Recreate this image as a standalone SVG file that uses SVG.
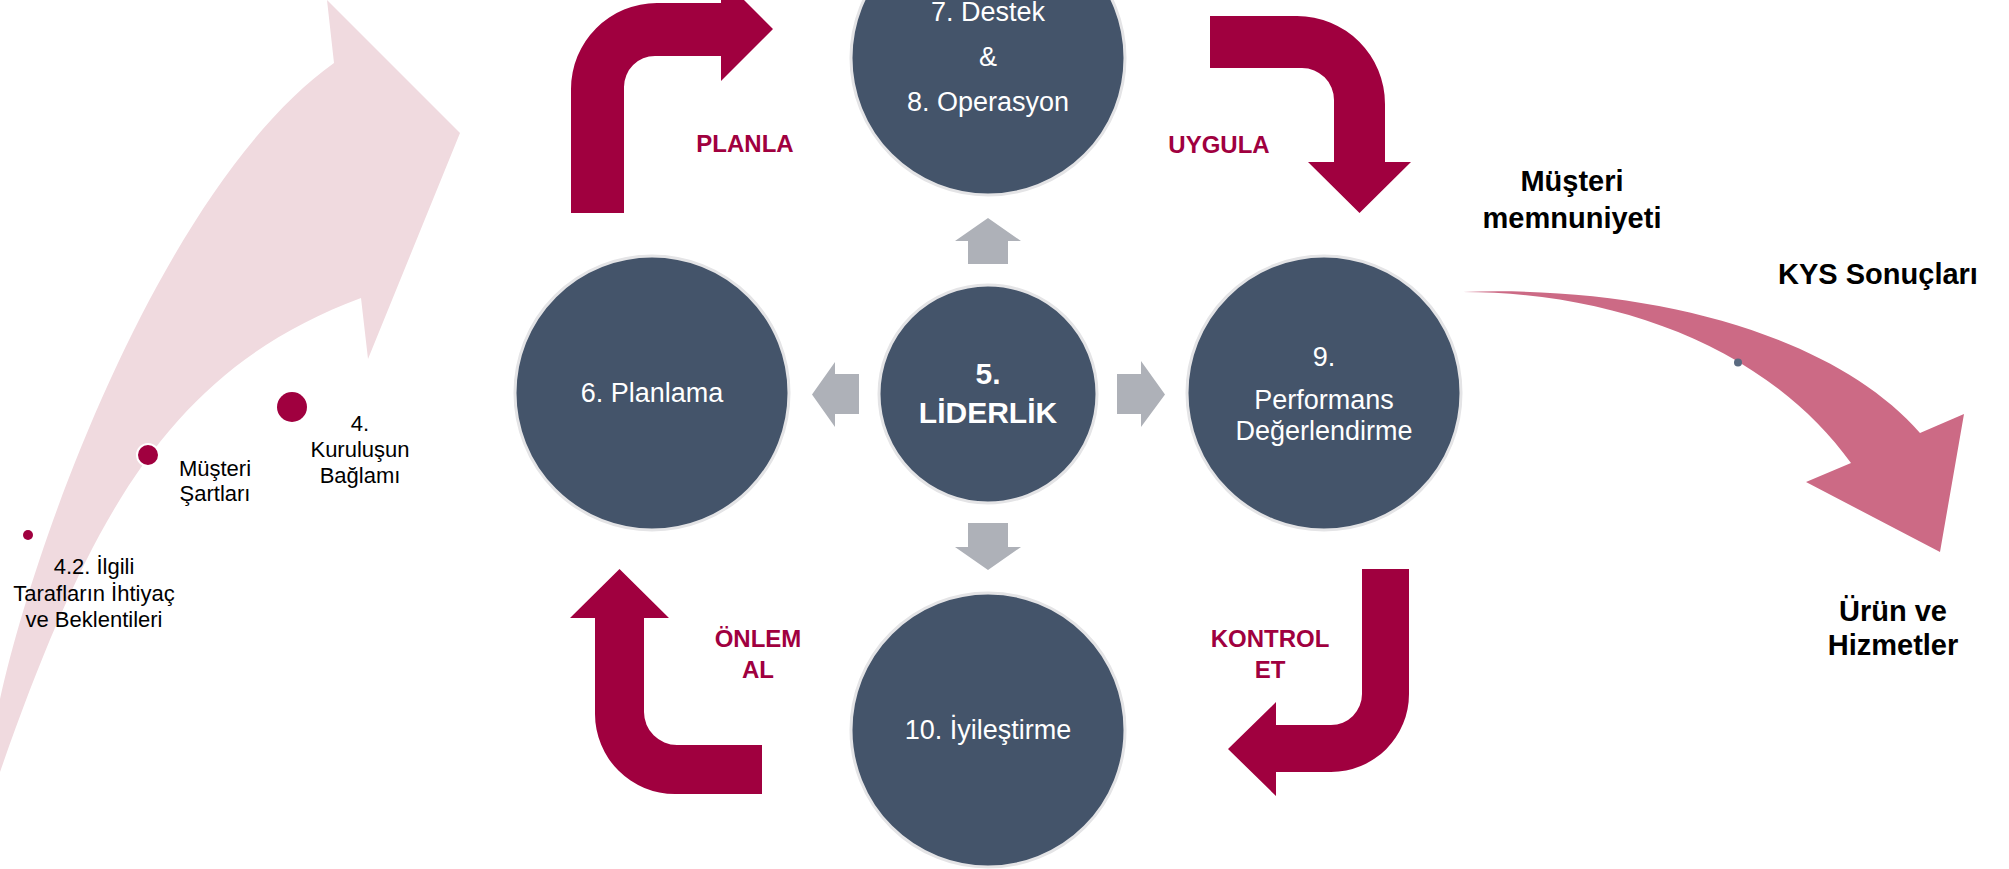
<svg xmlns="http://www.w3.org/2000/svg" width="2009" height="869" viewBox="0 0 2009 869">
  <style>
    .node { fill: #44546A; stroke: #E4E4E6; stroke-width: 3; }
    .ntext { font-family: "Liberation Sans", Arial, sans-serif; font-size: 27px; fill: #FFFFFF; text-anchor: middle; }
    .nbold { font-family: "Liberation Sans", Arial, sans-serif; font-size: 30px; font-weight: bold; fill: #FFFFFF; text-anchor: middle; }
    .cycle { fill: #A0003F; }
    .lead { fill: #AEB1B8; }
    .step { font-family: "Liberation Sans", Arial, sans-serif; font-size: 24px; font-weight: bold; fill: #A0003F; text-anchor: middle; }
    .out { font-family: "Liberation Sans", Arial, sans-serif; font-size: 29px; font-weight: bold; fill: #000000; text-anchor: middle; }
    .ctx { font-family: "Liberation Sans", Arial, sans-serif; font-size: 22px; fill: #000000; text-anchor: middle; }
    .dot { fill: #A0003F; }
  </style>
  <rect width="2009" height="869" fill="#FFFFFF"/>

  <!-- context arrow on the left, rising to the right -->
  <g id="context-arrow">
    <path d="M0,699 C40,520 170,180 334,63 L327,0 L460,133 L368,359 L361,298 C173.6,367.8 92.4,507.7 0,772 Z" fill="#F0DADF"/>
  </g>

  <g id="ctx-kurulus">
    <circle class="dot" cx="292" cy="407" r="15"/>
    <text class="ctx" x="360" y="431">4.</text>
    <text class="ctx" x="360" y="457">Kuruluşun</text>
    <text class="ctx" x="360" y="483">Bağlamı</text>
  </g>
  <g id="ctx-musteri">
    <circle class="dot" cx="148" cy="455" r="11" stroke="#FFFFFF" stroke-width="2"/>
    <text class="ctx" x="215" y="476">Müşteri</text>
    <text class="ctx" x="215" y="501">Şartları</text>
  </g>
  <g id="ctx-taraflar">
    <circle class="dot" cx="28" cy="535" r="5"/>
    <text class="ctx" x="94" y="574">4.2. İlgili</text>
    <text class="ctx" x="94" y="601">Tarafların İhtiyaç</text>
    <text class="ctx" x="94" y="627">ve Beklentileri</text>
  </g>

  <!-- connectors: PUKÖ cycle arrows, leadership arrows, result arrow -->
  <g id="connectors">
    <path id="arrow-planla" class="cycle" d="M571,213 L571,89 A86,86 0 0 1 657,3 L721,3 L721,-23 L773,29 L721,81 L721,56 L655,56 A31,31 0 0 0 624,87 L624,213 Z"/>
    <path id="arrow-uygula" class="cycle" d="M1210,16 L1297,16 A88,88 0 0 1 1385,104 L1385,162 L1411,162 L1359.5,213 L1308,162 L1334,162 L1334,100 A32,32 0 0 0 1302,68 L1210,68 Z"/>
    <path id="arrow-kontrol" class="cycle" d="M1362,569 L1409,569 L1409,694 A78,78 0 0 1 1331,772 L1276,772 L1276,796 L1228,749 L1276,702 L1276,725 L1331,725 A31,31 0 0 0 1362,694 Z"/>
    <path id="arrow-onlem" class="cycle" d="M762,794 L675,794 A80,80 0 0 1 595,714 L595,618 L570,618 L619.5,569 L669,618 L644,618 L644,712 A33,33 0 0 0 677,745 L762,745 Z"/>

    <path id="lead-up" class="lead" d="M968,264 L968,241 L955,241 L988,218 L1021,241 L1008,241 L1008,264 Z"/>
    <path id="lead-down" class="lead" d="M968,523 L1008,523 L1008,547 L1021,547 L988,570 L955,547 L968,547 Z"/>
    <path id="lead-left" class="lead" d="M859,374 L835,374 L835,362 L812,394.5 L835,427 L835,414 L859,414 Z"/>
    <path id="lead-right" class="lead" d="M1117,374 L1141,374 L1141,361 L1165,394.5 L1141,427 L1141,414 L1117,414 Z"/>

    <path id="arrow-kys" d="M1463,292 C1650,285 1835,335 1920,433 L1964,414 L1940,552 L1806,482 L1851,463 C1770,350 1620,292 1463,292 Z" fill="#CC6A85"/>
    <circle cx="1738" cy="362.5" r="4" fill="#5A6A80"/>
  </g>

  <!-- process nodes -->
  <g id="node-destek-operasyon">
    <circle class="node" cx="988" cy="58" r="137"/>
    <text class="ntext" x="988" y="21">7. Destek</text>
    <text class="ntext" x="988" y="66">&amp;</text>
    <text class="ntext" x="988" y="111">8. Operasyon</text>
  </g>
  <g id="node-planlama">
    <circle class="node" cx="652" cy="393" r="137"/>
    <text class="ntext" x="652" y="402">6. Planlama</text>
  </g>
  <g id="node-liderlik">
    <circle class="node" cx="988" cy="394" r="109"/>
    <text class="nbold" x="988" y="384">5.</text>
    <text class="nbold" x="988" y="423">LİDERLİK</text>
  </g>
  <g id="node-performans">
    <circle class="node" cx="1324" cy="393" r="137"/>
    <text class="ntext" x="1324" y="366">9.</text>
    <text class="ntext" x="1324" y="409">Performans</text>
    <text class="ntext" x="1324" y="440">Değerlendirme</text>
  </g>
  <g id="node-iyilestirme">
    <circle class="node" cx="988" cy="730" r="137"/>
    <text class="ntext" x="988" y="739">10. İyileştirme</text>
  </g>

  <!-- cycle step labels -->
  <g id="label-planla"><text class="step" x="745" y="152">PLANLA</text></g>
  <g id="label-uygula"><text class="step" x="1219" y="153">UYGULA</text></g>
  <g id="label-kontrol">
    <text class="step" x="1270" y="647">KONTROL</text>
    <text class="step" x="1270" y="678">ET</text>
  </g>
  <g id="label-onlem">
    <text class="step" x="758" y="647">ÖNLEM</text>
    <text class="step" x="758" y="678">AL</text>
  </g>

  <!-- results -->
  <g id="out-memnuniyet">
    <text class="out" x="1572" y="191">Müşteri</text>
    <text class="out" x="1572" y="228">memnuniyeti</text>
  </g>
  <g id="out-kys"><text class="out" x="1878" y="284">KYS Sonuçları</text></g>
  <g id="out-urun">
    <text class="out" x="1893" y="621">Ürün ve</text>
    <text class="out" x="1893" y="655">Hizmetler</text>
  </g>
</svg>
